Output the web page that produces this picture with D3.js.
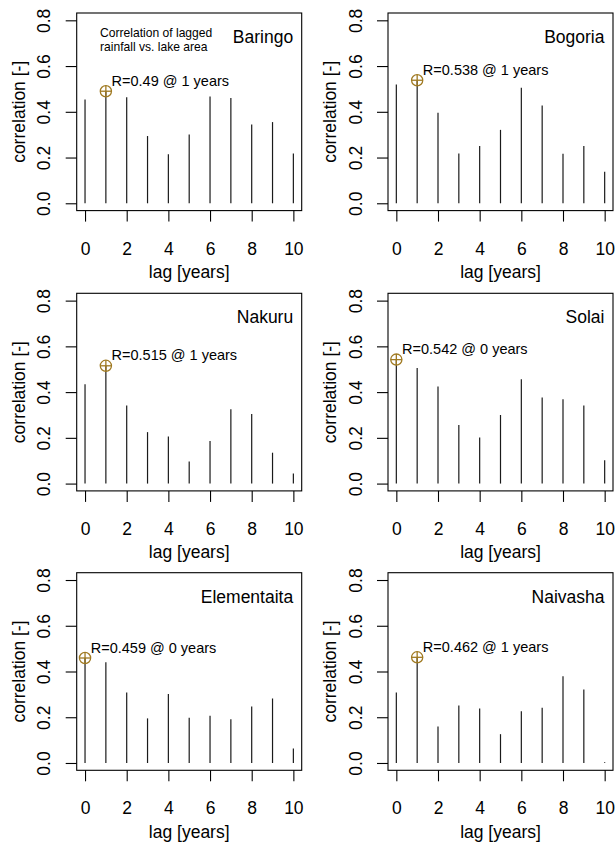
<!DOCTYPE html>
<html>
<head>
<meta charset="utf-8">
<script src="https://cdn.jsdelivr.net/npm/d3@7"></script>
<style>
  html, body { margin: 0; padding: 0; background: #fff; }
  svg { display: block; font-family: Arial, "Liberation Sans", sans-serif; }
</style>
</head>
<body>
<svg id="chart" width="616" height="843"></svg>
<script>
// ---- data ----
const lakes = ["Baringo", "Bogoria", "Nakuru", "Solai", "Elementaita", "Naivasha"];
const lags = [0, 1, 2, 3, 4, 5, 6, 7, 8, 9, 10];
const baringo     = [0.454, 0.490, 0.464, 0.294, 0.214, 0.301, 0.467, 0.460, 0.345, 0.355, 0.218];
const bogoria     = [0.519, 0.538, 0.396, 0.218, 0.250, 0.321, 0.505, 0.428, 0.217, 0.250, 0.138];
const nakuru      = [0.434, 0.515, 0.341, 0.225, 0.206, 0.097, 0.186, 0.325, 0.304, 0.135, 0.044];
const solai       = [0.542, 0.505, 0.424, 0.256, 0.202, 0.300, 0.456, 0.376, 0.369, 0.341, 0.102];
const elementaita = [0.459, 0.440, 0.308, 0.195, 0.302, 0.198, 0.206, 0.191, 0.247, 0.282, 0.063];
const naivasha    = [0.308, 0.462, 0.160, 0.251, 0.238, 0.126, 0.226, 0.242, 0.379, 0.321, 0.003];
const series = [baringo, bogoria, nakuru, solai, elementaita, naivasha];
const xTicks = [0, 2, 4, 6, 8, 10];
const yTicks = [0, 0.2, 0.4, 0.6, 0.8];
const yTickLabels = ["0.0", "0.2", "0.4", "0.6", "0.8"];
const captionLines = ["Correlation of lagged", "rainfall vs. lake area"];
const xTitle = "lag [years]";
const yTitle = "correlation [-]";

// ---- layout ----
const svg = d3.select("#chart");
const colLeft = [76.7, 388.0];
const boxW = 225;
const rowTop = [13.0, 293.3, 572.7];
const boxH = 197.6;
const markerColor = "#A07A22";
const fs = 17.5;

series.forEach((vals, i) => {
  const col = i % 2, row = Math.floor(i / 2);
  const L = colLeft[col], T = rowTop[row];
  const x = d3.scaleLinear().domain([-0.4, 10.4]).range([L, L + boxW]);
  const y = d3.scaleLinear().domain([-0.032, 0.832]).range([T + boxH, T]);
  const g = svg.append("g");

  // bars (type="h")
  g.selectAll("line.bar").data(lags).join("line")
    .attr("class", "bar")
    .attr("x1", d => x(d)).attr("x2", d => x(d))
    .attr("y1", y(0)).attr("y2", d => y(vals[d]))
    .attr("stroke", "#1a1a1a").attr("stroke-width", 1.2);

  // box
  g.append("rect").attr("x", L).attr("y", T).attr("width", boxW).attr("height", boxH)
    .attr("fill", "none").attr("stroke", "#000").attr("stroke-width", 1.1);

  // x axis
  const xa = g.append("g").attr("transform", `translate(0,${T + boxH})`)
    .call(d3.axisBottom(x).tickValues(xTicks).tickSize(11).tickPadding(0).tickFormat(d3.format("d")));
  xa.select(".domain").remove();
  xa.selectAll(".tick line").attr("stroke", "#000").attr("stroke-width", 1.1);
  xa.selectAll(".tick text").attr("y", 44).attr("dy", null)
    .attr("font-size", fs).attr("fill", "#000").attr("font-family", "Arial, 'Liberation Sans', sans-serif");

  // y axis
  const ya = g.append("g").attr("transform", `translate(${L},0)`)
    .call(d3.axisLeft(y).tickValues(yTicks).tickSize(11).tickFormat((d, k) => yTickLabels[k]));
  ya.select(".domain").remove();
  ya.selectAll(".tick line").attr("stroke", "#000").attr("stroke-width", 1.1);
  ya.selectAll(".tick text").attr("x", null).attr("dy", null)
    .attr("text-anchor", "middle").attr("transform", "translate(-26.3,0) rotate(-90)")
    .attr("font-size", fs).attr("fill", "#000").attr("font-family", "Arial, 'Liberation Sans', sans-serif");

  // axis titles
  g.append("text").attr("x", L + boxW / 2).attr("y", T + boxH + 67.5)
    .attr("text-anchor", "middle").attr("font-size", fs).text(xTitle);
  g.append("text").attr("transform", `translate(${L - 52},${T + boxH / 2}) rotate(-90)`)
    .attr("text-anchor", "middle").attr("font-size", fs).text(yTitle);

  // lake name
  g.append("text").attr("x", L + boxW - 8.5).attr("y", T + 29.8)
    .attr("text-anchor", "end").attr("font-size", fs).text(lakes[i]);

  // caption in first panel
  if (i === 0) {
    captionLines.forEach((t, k) => {
      g.append("text").attr("x", L + 23.3).attr("y", T + 23.7 + k * 14.5)
        .attr("font-size", 12.1).text(t);
    });
  }

  // max marker
  const maxV = d3.max(vals);
  const maxLag = lags[vals.indexOf(maxV)];
  const mx = x(maxLag), my = y(maxV);
  const r = 5.6;
  g.append("circle").attr("cx", mx).attr("cy", my).attr("r", r)
    .attr("fill", "none").attr("stroke", markerColor).attr("stroke-width", 1.3);
  g.append("line").attr("x1", mx - r).attr("x2", mx + r).attr("y1", my).attr("y2", my)
    .attr("stroke", markerColor).attr("stroke-width", 1.3);
  g.append("line").attr("x1", mx).attr("x2", mx).attr("y1", my - r).attr("y2", my + r)
    .attr("stroke", markerColor).attr("stroke-width", 1.3);
  g.append("text").attr("x", mx + 5.7).attr("y", my - 5.4)
    .attr("font-size", 14.5)
    .text(`R=${+maxV.toFixed(3)} @ ${maxLag} years`);
});
</script>
</body>
</html>
